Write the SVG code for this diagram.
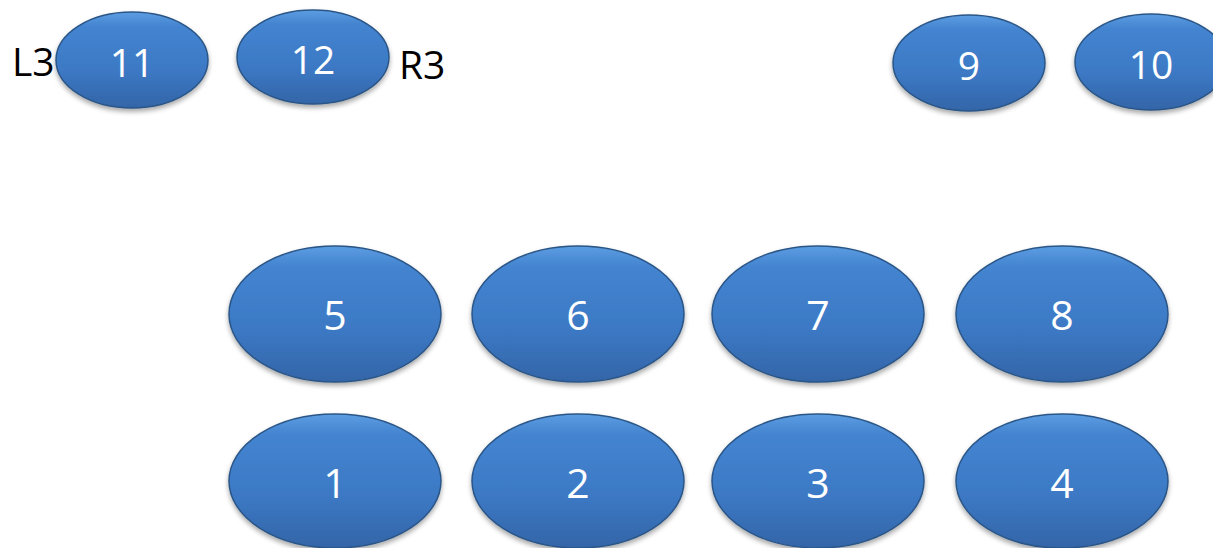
<svg xmlns="http://www.w3.org/2000/svg" width="1213" height="548" viewBox="0 0 1213 548">
<defs>
<linearGradient id="g" x1="0" y1="0" x2="0" y2="1">
<stop offset="0" stop-color="#5c9de2"/>
<stop offset="0.15" stop-color="#4484d0"/>
<stop offset="0.6" stop-color="#3c79c5"/>
<stop offset="1" stop-color="#3365a8"/>
</linearGradient>
<filter id="sh" x="-20%" y="-20%" width="140%" height="150%">
<feGaussianBlur in="SourceAlpha" stdDeviation="2.5"/>
<feOffset dy="3"/>
<feComponentTransfer><feFuncA type="linear" slope="0.35"/></feComponentTransfer>
<feMerge><feMergeNode/><feMergeNode in="SourceGraphic"/></feMerge>
</filter>
</defs>
<style>
.n{fill:url(#g);stroke:#2b5687;stroke-width:1.5;filter:url(#sh)}
.t{fill:#fff;font-family:"Open Sans","Liberation Sans",sans-serif;text-anchor:middle}
.l{fill:#000;font-family:"Open Sans","Liberation Sans",sans-serif;font-size:39px}
</style>
<g id="connectors"/>
<g id="n11"><ellipse class="n" cx="132" cy="60" rx="76" ry="48"/><text class="t" x="132" y="77" font-size="39">11</text></g>
<g id="n12"><ellipse class="n" cx="313" cy="57" rx="76" ry="47"/><text class="t" x="313" y="74" font-size="39">12</text></g>
<g id="n9"><ellipse class="n" cx="969" cy="63" rx="76" ry="48"/><text class="t" x="969" y="80" font-size="39">9</text></g>
<g id="n10"><ellipse class="n" cx="1151" cy="62" rx="76" ry="48"/><text class="t" x="1151" y="79" font-size="39">10</text></g>
<g id="n5"><ellipse class="n" cx="335" cy="314" rx="106" ry="68"/><text class="t" x="335" y="330" font-size="41">5</text></g>
<g id="n6"><ellipse class="n" cx="578" cy="314" rx="106" ry="68"/><text class="t" x="578" y="330" font-size="41">6</text></g>
<g id="n7"><ellipse class="n" cx="818" cy="314" rx="106" ry="68"/><text class="t" x="818" y="330" font-size="41">7</text></g>
<g id="n8"><ellipse class="n" cx="1062" cy="314" rx="106" ry="68"/><text class="t" x="1062" y="330" font-size="41">8</text></g>
<g id="n1"><ellipse class="n" cx="335" cy="481" rx="106" ry="67"/><text class="t" x="335" y="498" font-size="41">1</text></g>
<g id="n2"><ellipse class="n" cx="578" cy="481" rx="106" ry="67"/><text class="t" x="578" y="498" font-size="41">2</text></g>
<g id="n3"><ellipse class="n" cx="818" cy="481" rx="106" ry="67"/><text class="t" x="818" y="498" font-size="41">3</text></g>
<g id="n4"><ellipse class="n" cx="1062" cy="481" rx="106" ry="67"/><text class="t" x="1062" y="498" font-size="41">4</text></g>
<text class="l" x="12" y="76">L3</text>
<text class="l" x="399" y="79">R3</text>
</svg>
